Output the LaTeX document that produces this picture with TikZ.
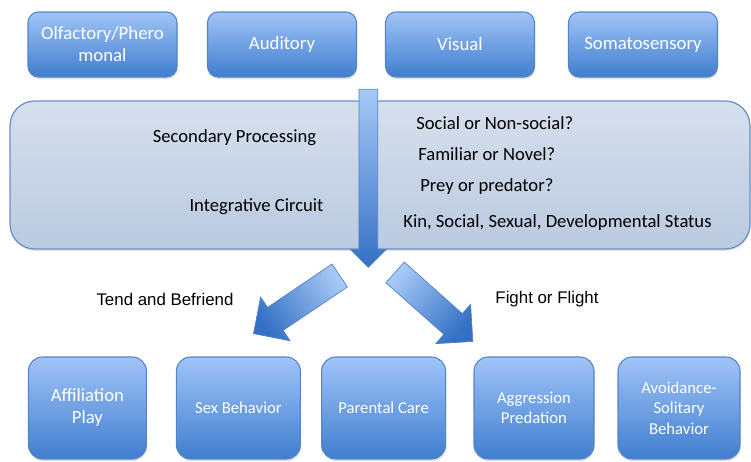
\documentclass[tikz,border=0pt]{standalone}
\usepackage{fontspec}
\setmainfont{Carlito}
\newfontfamily\arialfont{Liberation Sans}
\usetikzlibrary{shapes.arrows,shadows}
\definecolor{boxtop}{RGB}{160,196,248}
\definecolor{boxbottom}{RGB}{64,126,206}
\definecolor{boxline}{RGB}{84,132,200}
\definecolor{paneltop}{RGB}{214,223,236}
\definecolor{panelbottom}{RGB}{186,202,224}
\definecolor{panelline}{RGB}{104,144,198}
\definecolor{arrowtop}{RGB}{166,200,246}
\definecolor{arrowbottom}{RGB}{52,112,196}

\begin{document}
\begin{tikzpicture}
    [x=0.02cm, y=-0.02cm,
    sense/.style={rectangle, rounded corners=6pt, draw=boxline, line width=0.6pt,
        top color=boxtop, bottom color=boxbottom, text=white, align=center,
        minimum width=2.98cm, minimum height=1.3cm, inner sep=2pt,
        font=\fontsize{10.7}{12.5}\selectfont,
        drop shadow={opacity=0.25, shadow xshift=0.4pt, shadow yshift=-1.2pt}},
    behave/.style={sense, rounded corners=8pt, minimum width=2.44cm, minimum height=2.04cm,
        font=\fontsize{9.5}{11.6}\selectfont},
    panel/.style={rectangle, rounded corners=14pt, draw=panelline, line width=0.7pt,
        top color=paneltop, bottom color=panelbottom,
        minimum width=14.8cm, minimum height=2.96cm,
        drop shadow={opacity=0.2, shadow xshift=0.4pt, shadow yshift=-1.2pt}},
    stage/.style={font=\fontsize{10.6}{12.7}\selectfont},
    question/.style={stage, anchor=west, inner xsep=0pt},
    route/.style={font=\arialfont\fontsize{9.6}{11.5}\selectfont},
    flow/.style={single arrow, single arrow tip angle=90, single arrow head indent=0pt,
        inner xsep=0pt, anchor=tail, draw=boxline, line width=0.4pt,
        top color=arrowtop, bottom color=arrowbottom},
    turn/.style={flow, inner ysep=0.27cm, minimum height=2.08cm,
        single arrow head extend=0.25cm}
    ]
    \useasboundingbox (0,0) rectangle (751,462);

    % senses
    \node [sense] (olf) at (102.5,44.5) {Olfactory/Phero\\monal};
    \node [sense] (aud) at (282,44.5) {Auditory};
    \node [sense] (vis) at (460,44.5) {Visual};
    \node [sense] (som) at (643,44.5) {Somatosensory};

    % processing
    \node [panel] (proc) at (380,175) {};
    \node [stage] (second) at (234.5,138) {Secondary Processing};
    \node [stage] (integ) at (256.5,207) {Integrative Circuit};
    \node [question] (qsocial) at (416,123) {Social or Non-social?};
    \node [question] (qnovel) at (418,154) {Familiar or Novel?};
    \node [question] (qprey) at (420,187) {Prey or predator?};
    \node [question] (qstatus) at (403,223) {Kin, Social, Sexual, Developmental Status};

    \node [flow, inner ysep=0.18cm, minimum height=3.56cm,
        single arrow head extend=0.17cm, rotate=-90] (down) at (368.3,89) {};

    % the two ways out
    \node [turn, rotate=214, shading angle=-56] (left) at (340,275.3) {};
    \node [turn, rotate=-41.6, shading angle=48.4] (right) at (394.8,272.2) {};
    \node [route] (tend) at (165,299) {Tend and Befriend};
    \node [route] (fight) at (547,299) {Fight or Flight};

    % behaviours
    \node [behave, minimum width=2.36cm, font=\fontsize{10.6}{12.5}\selectfont]
        (affil) at (87.4,408) {Affiliation\\Play};
    \node [behave, minimum width=2.48cm] (sex) at (238.4,408) {Sex Behavior};
    \node [behave, minimum width=2.48cm] (parent) at (383.6,408) {Parental Care};
    \node [behave, minimum width=2.4cm] (aggr) at (534,408) {Aggression\\Predation};
    \node [behave] (avoid) at (679,408) {Avoidance-\\Solitary\\Behavior};
\end{tikzpicture}
\end{document}
